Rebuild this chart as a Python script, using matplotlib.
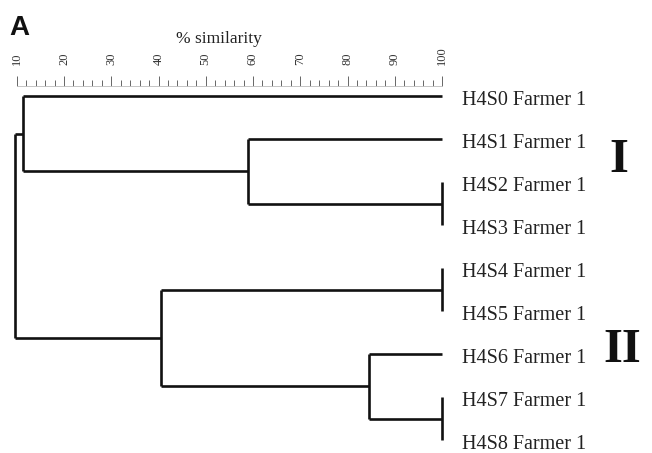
import matplotlib
matplotlib.use("Agg")
import matplotlib.pyplot as plt
from matplotlib.ticker import FixedLocator

# ---- data ----
leaf_labels = ["H4S0 Farmer 1", "H4S1 Farmer 1", "H4S2 Farmer 1", "H4S3 Farmer 1",
               "H4S4 Farmer 1", "H4S5 Farmer 1", "H4S6 Farmer 1", "H4S7 Farmer 1",
               "H4S8 Farmer 1"]
# merges (scipy-style node ids: leaves 0..8, new nodes 9..)
merge_left = [2, 4, 7, 1, 6, 0, 10, 14]
merge_right = [3, 5, 8, 9, 11, 12, 13, 15]
merge_similarity = [100, 100, 100, 59.0, 84.6, 11.3, 40.5, 9.6]
scale_ticks = [10, 20, 30, 40, 50, 60, 70, 80, 90, 100]
scale_minor = list(range(10, 101, 2))
cluster_names = ["I", "II"]

W, H = 652, 453
fig = plt.figure(figsize=(W / 100, H / 100), dpi=100)

# pixel mapping: 10% -> 16.75 px, 4.725 px per %
x0 = 10 - 16.75 / 4.725
x1 = 10 + (W - 16.75) / 4.725
# leaf i at pixel 96 + 43 i
y_top = -96 / 43
y_bot = (H - 96) / 43

ax = fig.add_axes([0, 0, 1, 1])
ax.set_xlim(x0, x1)
ax.set_ylim(y_bot, y_top)
ax.axis("off")

n = len(leaf_labels)
node_x = {i: 100.0 for i in range(n)}
node_y = {i: float(i) for i in range(n)}
lw = 1.9
col = "#111111"
for k, (a, b, s) in enumerate(zip(merge_left, merge_right, merge_similarity)):
    nid = n + k
    ya, yb = node_y[a], node_y[b]
    ax.plot([s, s], [ya, yb], color=col, lw=lw, solid_capstyle="butt")
    ax.plot([s, node_x[a]], [ya, ya], color=col, lw=lw, solid_capstyle="butt")
    ax.plot([s, node_x[b]], [yb, yb], color=col, lw=lw, solid_capstyle="butt")
    node_x[nid] = s
    node_y[nid] = (ya + yb) / 2

for i, lab in enumerate(leaf_labels):
    ax.text(104.2, i + 0.2, lab, ha="left", va="baseline", fontsize=14.5,
            family="Liberation Serif", color="#222222")

# ruler
axr = fig.add_axes([0, 1 - 86 / H, 1, 18 / H])
axr.set_xlim(x0, x1)
axr.set_ylim(0, 1)
for sp in ["top", "left", "right"]:
    axr.spines[sp].set_visible(False)
axr.spines["bottom"].set_color("#bbbbbb")
axr.spines["bottom"].set_linewidth(0.6)
axr.spines["bottom"].set_bounds(10, 100)
axr.set_facecolor("none")
axr.set_yticks([])
axr.set_xticks(scale_ticks)
axr.xaxis.set_minor_locator(FixedLocator(scale_minor))
axr.tick_params(axis="x", which="both", direction="in", bottom=True, top=False,
                labelbottom=False, labeltop=True, color="#666666", width=0.7)
axr.tick_params(axis="x", which="major", length=7, pad=2, labelsize=9,
                labelrotation=90)
axr.tick_params(axis="x", which="minor", length=4)
for t in axr.get_xticklabels():
    t.set_family("Liberation Serif")
    t.set_color("#333333")

fig.text(219 / W, 1 - 39 / H, "% similarity", ha="center", va="center",
         fontsize=12.5, family="Liberation Serif", color="#222222")

fig.text(619 / W, 1 - 172 / H, cluster_names[0], ha="center", va="baseline",
         fontsize=35, fontweight="bold", family="Liberation Serif", color="#111111")
fig.text(622 / W, 1 - 362 / H, cluster_names[1], ha="center", va="baseline",
         fontsize=35, fontweight="bold", family="Liberation Serif", color="#111111")

fig.text(9 / W, 1 - 35 / H, "A", ha="left", va="baseline", fontsize=20,
         fontweight="bold", family="Liberation Sans", color="#111111")

fig.savefig("out.png", dpi=100)
